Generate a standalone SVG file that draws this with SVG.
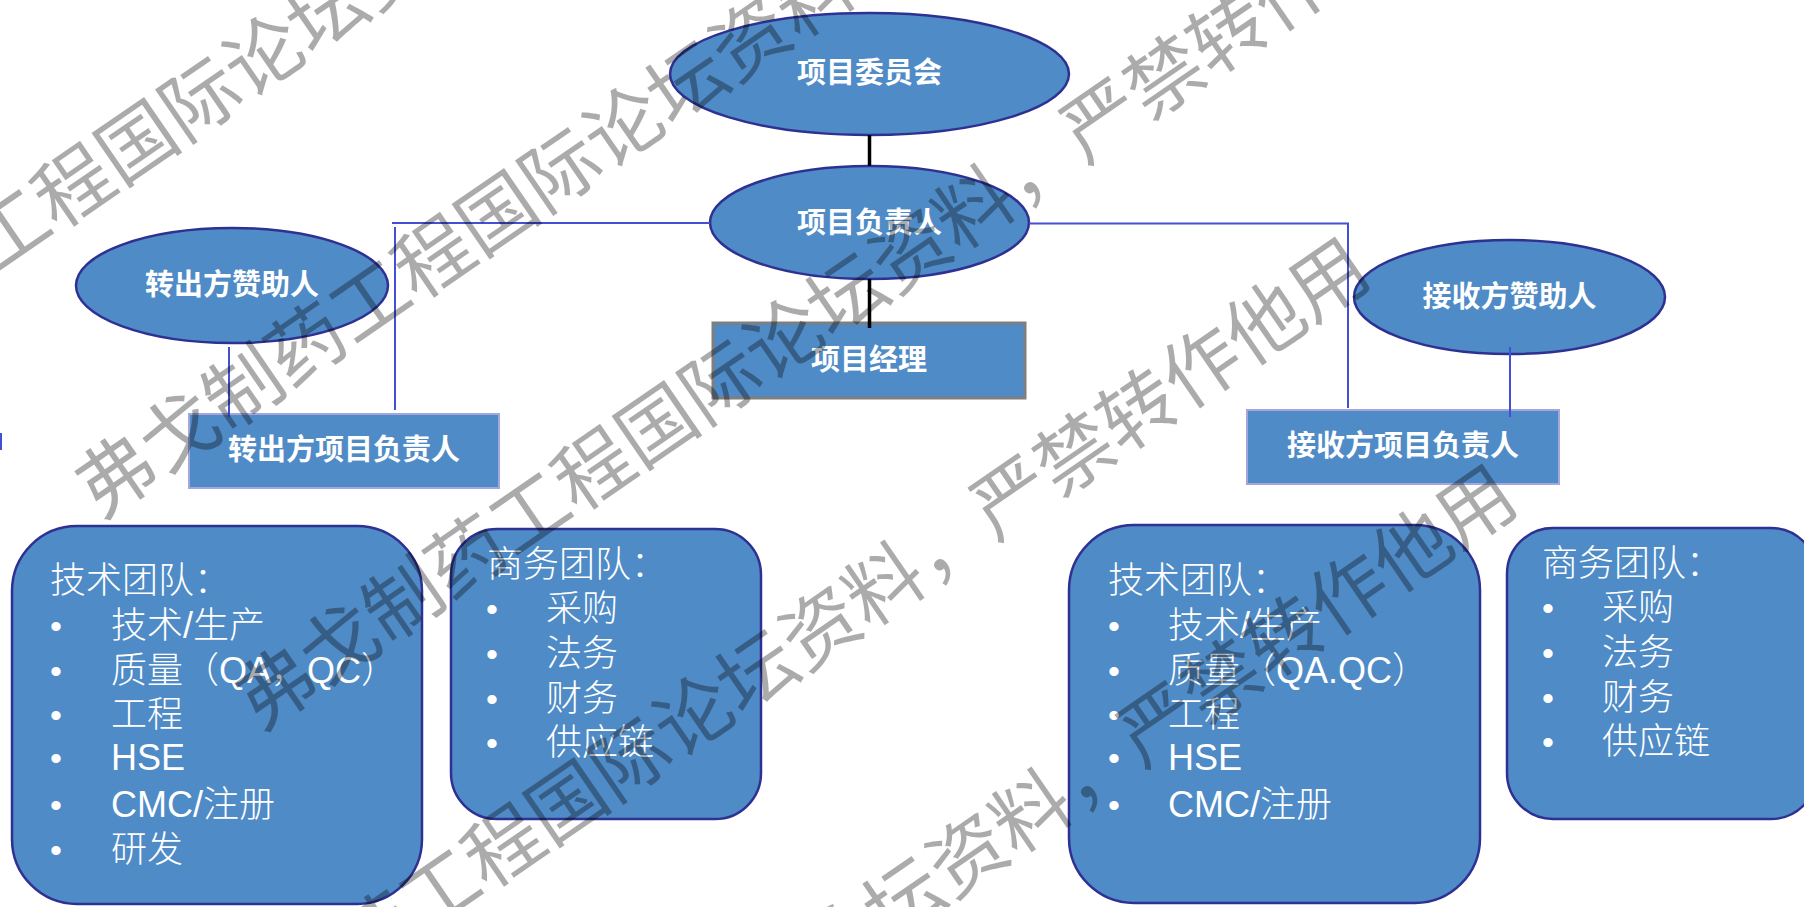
<svg xmlns="http://www.w3.org/2000/svg" width="1804" height="907" viewBox="0 0 1804 907">
<defs>
<style>
.node{fill:#4F8BC6}
.ell{stroke:#2E3192;stroke-width:2.5}
.box{stroke:#2E3192;stroke-width:2.5}
.rgray{stroke:#7F7F7F;stroke-width:3}
.rlav{stroke:#A4A6DC;stroke-width:2}
.lbl{font-family:"Noto Sans CJK SC","Noto Sans",sans-serif;font-weight:700;font-size:29px;fill:#fff;text-anchor:middle}
.txt{font-family:"Liberation Sans","Noto Sans CJK SC",sans-serif;font-weight:300;font-size:36px;fill:#fff}
.bul{font-family:"Liberation Sans",sans-serif;font-size:34px;fill:#fff;text-anchor:middle}
.blk{stroke:#000;stroke-width:3.5;fill:none}
.blu{stroke:#4450D4;stroke-width:2;fill:none}
.wm{font-family:"Noto Sans CJK SC",sans-serif;font-size:77px;fill:#000;fill-opacity:0.33}
</style>
</defs>
<rect width="1804" height="907" fill="#fff"/>

<g id="committee">
<ellipse class="node ell" cx="869.5" cy="74" rx="199.5" ry="61"/>
<text class="lbl" x="869.5" y="83">项目委员会</text>
</g>
<g id="project-lead">
<ellipse class="node ell" cx="869.5" cy="222.5" rx="159.5" ry="56.5"/>
<text class="lbl" x="869.5" y="233">项目负责人</text>
</g>
<g id="project-manager">
<rect class="node rgray" x="713" y="323" width="312" height="75"/>
<text class="lbl" x="869" y="370">项目经理</text>
</g>
<g id="out-sponsor">
<ellipse class="node ell" cx="232" cy="285.5" rx="156" ry="57.5"/>
<text class="lbl" x="232" y="295">转出方赞助人</text>
</g>
<g id="in-sponsor">
<ellipse class="node ell" cx="1509.5" cy="297" rx="155.5" ry="57"/>
<text class="lbl" x="1509.5" y="307">接收方赞助人</text>
</g>
<g id="out-lead">
<rect class="node rlav" x="189" y="414" width="310" height="74"/>
<text class="lbl" x="344" y="460">转出方项目负责人</text>
</g>
<g id="in-lead">
<rect class="node rlav" x="1247" y="410" width="312" height="74"/>
<text class="lbl" x="1403" y="456">接收方项目负责人</text>
</g>

<g id="out-tech">
<rect class="node box" x="12" y="526" width="410" height="378" rx="65" ry="65"/>
<text class="txt" x="50" y="593">技术团队：</text>
<text class="bul" x="56" y="638">•</text><text class="txt" x="111" y="638">技术/生产</text>
<text class="bul" x="56" y="683">•</text><text class="txt" x="111" y="683">质量（QA，QC）</text>
<text class="bul" x="56" y="727">•</text><text class="txt" x="111" y="727">工程</text>
<text class="bul" x="56" y="770">•</text><text class="txt" x="111" y="770">HSE</text>
<text class="bul" x="56" y="817">•</text><text class="txt" x="111" y="817">CMC/注册</text>
<text class="bul" x="56" y="862">•</text><text class="txt" x="111" y="862">研发</text>
</g>
<g id="out-business">
<rect class="node box" x="451" y="529" width="310" height="290" rx="46" ry="46"/>
<text class="txt" x="487" y="577">商务团队：</text>
<text class="bul" x="492" y="621">•</text><text class="txt" x="546" y="621">采购</text>
<text class="bul" x="492" y="666">•</text><text class="txt" x="546" y="666">法务</text>
<text class="bul" x="492" y="711">•</text><text class="txt" x="546" y="711">财务</text>
<text class="bul" x="492" y="755">•</text><text class="txt" x="546" y="755">供应链</text>
</g>
<g id="in-tech">
<rect class="node box" x="1069" y="525" width="411" height="378" rx="65" ry="65"/>
<text class="txt" x="1108" y="593">技术团队：</text>
<text class="bul" x="1114" y="638">•</text><text class="txt" x="1168" y="638">技术/生产</text>
<text class="bul" x="1114" y="683">•</text><text class="txt" x="1168" y="683">质量（QA.QC）</text>
<text class="bul" x="1114" y="727">•</text><text class="txt" x="1168" y="727">工程</text>
<text class="bul" x="1114" y="770">•</text><text class="txt" x="1168" y="770">HSE</text>
<text class="bul" x="1114" y="817">•</text><text class="txt" x="1168" y="817">CMC/注册</text>
</g>
<g id="in-business">
<rect class="node box" x="1507" y="528" width="310" height="291" rx="46" ry="46"/>
<text class="txt" x="1542" y="576">商务团队：</text>
<text class="bul" x="1548" y="620">•</text><text class="txt" x="1602" y="620">采购</text>
<text class="bul" x="1548" y="665">•</text><text class="txt" x="1602" y="665">法务</text>
<text class="bul" x="1548" y="710">•</text><text class="txt" x="1602" y="710">财务</text>
<text class="bul" x="1548" y="754">•</text><text class="txt" x="1602" y="754">供应链</text>
</g>

<g id="connectors">
<line class="blk" x1="869.5" y1="135" x2="869.5" y2="166"/>
<line class="blk" x1="869.5" y1="279" x2="869.5" y2="328"/>
<line class="blu" x1="392" y1="223" x2="710" y2="223"/>
<line class="blu" x1="395" y1="227" x2="395" y2="410"/>
<line class="blu" x1="1029" y1="223.5" x2="1349" y2="223.5"/>
<line class="blu" x1="1348" y1="223" x2="1348" y2="408"/>
<line class="blu" x1="229" y1="347" x2="229" y2="417"/>
<line class="blu" x1="1510" y1="347" x2="1510" y2="417"/>
<line class="blu" x1="1" y1="433" x2="1" y2="450"/>
</g>

<g id="watermark">
<text class="wm" x="-260" y="449" transform="rotate(-34.5 -260 449)">弗戈制药工程国际论坛资料，严禁转作他用</text>
<text class="wm" x="100" y="520" transform="rotate(-34.5 100 520)">弗戈制药工程国际论坛资料，严禁转作他用</text>
<text class="wm" x="260" y="732" transform="rotate(-34.5 260 732)">弗戈制药工程国际论坛资料，严禁转作他用</text>
<text class="wm" x="170" y="1109" transform="rotate(-34.5 170 1109)">弗戈制药工程国际论坛资料，严禁转作他用</text>
<text class="wm" x="317" y="1336" transform="rotate(-34.5 317 1336)">弗戈制药工程国际论坛资料，严禁转作他用</text>
</g>
</svg>
